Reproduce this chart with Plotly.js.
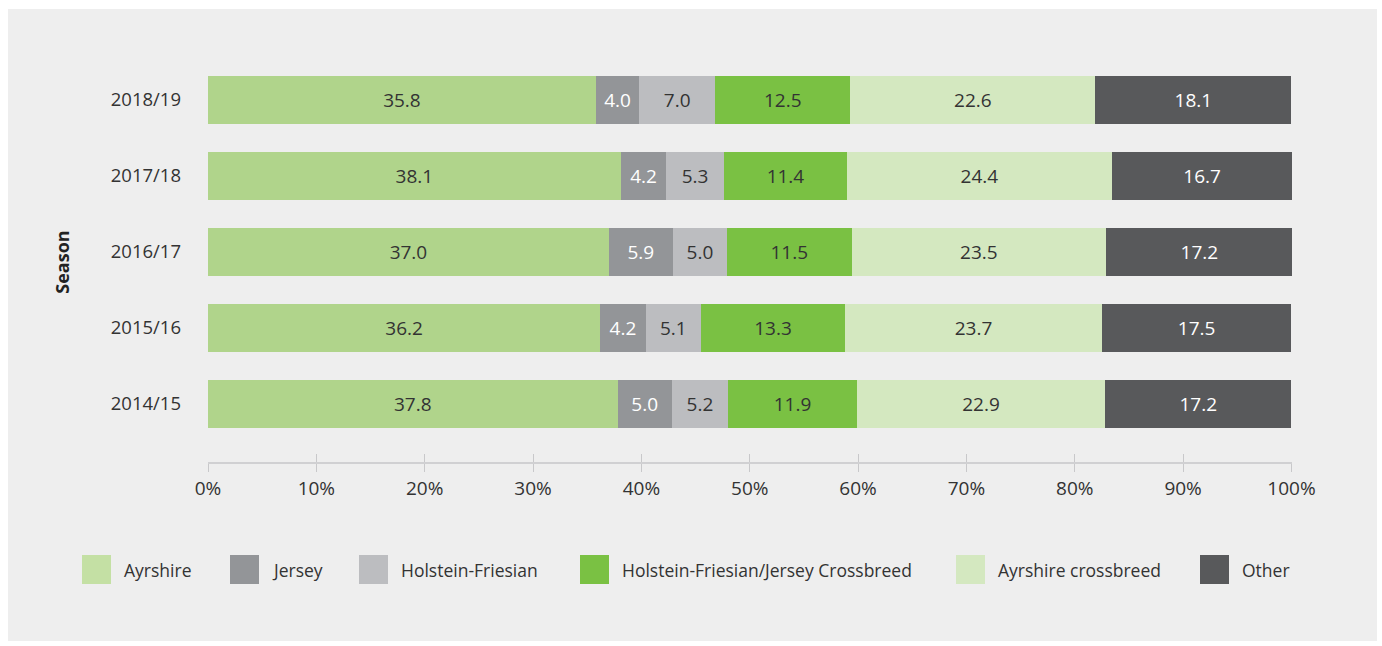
<!DOCTYPE html>
<html>
<head>
<meta charset="utf-8">
<script src="https://cdn.plot.ly/plotly-3.0.1.min.js"></script>
<style>
html,body{margin:0;padding:0;background:#ffffff;}
#chart{width:1382px;height:646px;}
</style>
</head>
<body>
<div id="chart"></div>
<script>
const seasons = ['2014/15', '2015/16', '2016/17', '2017/18', '2018/19'];
const breeds = ['Ayrshire', 'Jersey', 'Holstein-Friesian', 'Holstein-Friesian/Jersey Crossbreed', 'Ayrshire crossbreed', 'Other'];
const ayrshire = [37.8, 36.2, 37.0, 38.1, 35.8];
const jersey = [5.0, 4.2, 5.9, 4.2, 4.0];
const holsteinFriesian = [5.2, 5.1, 5.0, 5.3, 7.0];
const hfJerseyCross = [11.9, 13.3, 11.5, 11.4, 12.5];
const ayrshireCross = [22.9, 23.7, 23.5, 24.4, 22.6];
const other = [17.2, 17.5, 17.2, 16.7, 18.1];
const xTicks = [0, 10, 20, 30, 40, 50, 60, 70, 80, 90, 100];

const seriesValues = [ayrshire, jersey, holsteinFriesian, hfJerseyCross, ayrshireCross, other];
const barColors = ['#b0d48b', '#939598', '#bcbdc0', '#7ac143', '#d4e8c0', '#58595b'];
const swatchColors = ['#c4e0a4', '#939598', '#bcbdc0', '#7ac143', '#d4e8c0', '#58595b'];
const labelColors = ['#333333', '#ffffff', '#333333', '#333333', '#333333', '#ffffff'];
const legendX = [82, 230, 359, 580, 956, 1200];

const FONT = '"Open Sans", "Noto Sans", sans-serif';
const L = 208, R = 1292, T = 62, B = 462;
const PW = R - L, PH = B - T;
const px = x => (x - L) / PW;
const py = y => (B - y) / PH;

const traces = breeds.map((name, i) => ({
  type: 'bar',
  orientation: 'h',
  name: name,
  y: seasons,
  x: seriesValues[i],
  marker: {color: barColors[i], line: {width: 0}},
  text: seriesValues[i].map(v => v.toFixed(1)),
  textposition: 'inside',
  insidetextanchor: 'middle',
  textangle: 0,
  constraintext: 'none',
  textfont: {family: FONT, size: 19, color: labelColors[i]},
  hoverinfo: 'x+y+name',
  showlegend: false
}));

traces.push({type: 'scatter', x: [0, 100], y: [null, null], xaxis: 'x2', yaxis: 'y', showlegend: false, hoverinfo: 'skip'});

const shapes = [{
  type: 'rect', xref: 'paper', yref: 'paper', layer: 'below',
  x0: px(8), x1: px(1377), y0: py(641), y1: py(9),
  fillcolor: '#eeeeee', line: {width: 0}
}];
const annotations = [];
breeds.forEach((name, i) => {
  const x0 = legendX[i];
  shapes.push({
    type: 'rect', xref: 'paper', yref: 'paper',
    x0: px(x0), x1: px(x0 + 29), y0: py(584), y1: py(555),
    fillcolor: swatchColors[i], line: {width: 0}
  });
  annotations.push({
    xref: 'paper', yref: 'paper', x: px(x0 + 40), y: py(570),
    xanchor: 'left', yanchor: 'middle', showarrow: false,
    text: name, font: {family: FONT, size: 17.5, color: '#333333'}
  });
});

const layout = {
  width: 1382, height: 646,
  margin: {l: L, r: 1382 - R, t: T, b: 646 - B, pad: 0},
  paper_bgcolor: '#ffffff',
  plot_bgcolor: 'rgba(0,0,0,0)',
  barmode: 'stack',
  bargap: 0.38,
  showlegend: false,
  font: {family: FONT, size: 18, color: '#333333'},
  xaxis: {
    range: [0, 100.05], tickvals: xTicks, ticktext: xTicks.map(v => v + '%'),
    showgrid: false, zeroline: false, showline: true, linecolor: '#d0d0d2', linewidth: 2,
    ticks: 'outside', ticklen: 8, tickwidth: 1, tickcolor: '#c8c8ca',
    tickfont: {family: FONT, size: 19, color: '#333333'}, fixedrange: true
  },
  xaxis2: {
    overlaying: 'x', anchor: 'y', side: 'bottom', range: [0, 100.05], tickvals: xTicks,
    showticklabels: false, showgrid: false, zeroline: false, showline: false,
    ticks: 'inside', ticklen: 8, tickwidth: 1, tickcolor: '#c8c8ca', fixedrange: true
  },
  yaxis: {
    type: 'category', categoryorder: 'array', categoryarray: seasons,
    range: [-0.763, 4.5], showgrid: false, zeroline: false, showline: false,
    ticks: '', ticklabelstandoff: 26,
    tickfont: {family: FONT, size: 18.5, color: '#333333'},
    title: {text: '<b>Season</b>', standoff: 36, font: {family: FONT, size: 18, color: '#222222'}},
    fixedrange: true
  },
  shapes: shapes,
  annotations: annotations
};

Plotly.newPlot('chart', traces, layout, {displayModeBar: false, staticPlot: true});
</script>
</body>
</html>
